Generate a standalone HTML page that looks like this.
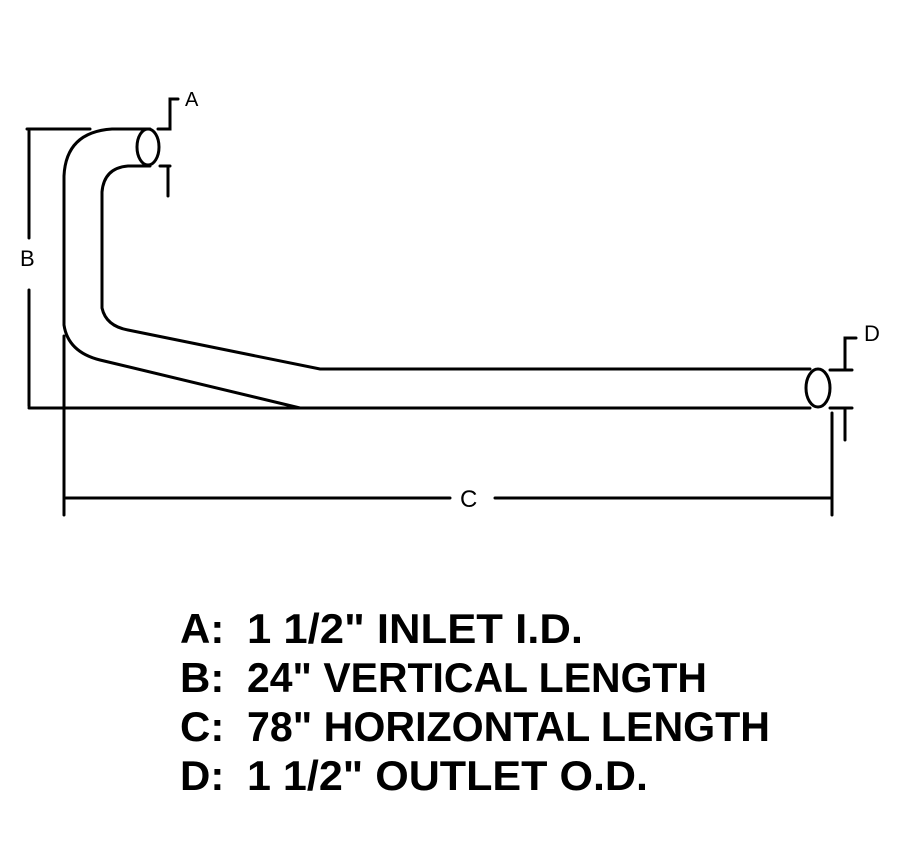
<!DOCTYPE html>
<html><head><style>html,body{margin:0;padding:0;background:#fff}</style></head>
<body>
<svg width="902" height="863" viewBox="0 0 902 863" xmlns="http://www.w3.org/2000/svg">
<g fill="none" stroke="#000" stroke-width="3" stroke-linecap="round">
<!-- B dimension -->
<line x1="27" y1="129" x2="90" y2="129"/>
<line x1="29" y1="131" x2="29" y2="238"/>
<line x1="29" y1="290" x2="29" y2="406"/>
<!-- baseline -->
<line x1="29" y1="408" x2="810" y2="408"/>
<!-- outer pipe -->
<path d="M150 129 L112 129 Q66 132 64 176 L64 325 Q68 352 100 360 L300 408"/>
<!-- inner pipe -->
<path d="M150 166 L128 166 Q104 168 102 192 L102 308 Q106 326 128 330 L320 369 L810 369"/>
<!-- inlet ellipse -->
<ellipse cx="148" cy="147" rx="11" ry="18"/>
<!-- outlet ellipse -->
<ellipse cx="818" cy="388" rx="12" ry="19"/>
<!-- A marker -->
<path d="M158 129 L170 129 L170 99 L178 99"/>
<path d="M160 166 L170 166"/>
<line x1="168" y1="166" x2="168" y2="196"/>
<!-- D marker -->
<path d="M830 370 L852 370"/>
<path d="M845 368 L845 338 L856 338"/>
<path d="M830 408 L852 408"/>
<line x1="845" y1="410" x2="845" y2="440"/>
<!-- C extension & dim -->
<line x1="64" y1="336" x2="64" y2="515"/>
<line x1="832" y1="413" x2="832" y2="515"/>
<line x1="66" y1="498" x2="450" y2="498"/>
<line x1="495" y1="498" x2="830" y2="498"/>
</g>
<g font-family="Liberation Sans, sans-serif" fill="#000">
<text x="185" y="106" font-size="20">A</text>
<text x="20" y="266" font-size="22">B</text>
<text x="460" y="507" font-size="24">C</text>
<text x="864" y="341" font-size="22">D</text>
</g>
<g font-family="Liberation Sans, sans-serif" font-weight="bold" font-size="42" fill="#000">
<text x="180" y="643">A:</text><text x="247" y="643" textLength="336" lengthAdjust="spacingAndGlyphs">1 1/2" INLET I.D.</text>
<text x="180" y="692">B:</text><text x="247" y="692" textLength="460" lengthAdjust="spacingAndGlyphs">24" VERTICAL LENGTH</text>
<text x="180" y="741">C:</text><text x="247" y="741" textLength="523" lengthAdjust="spacingAndGlyphs">78" HORIZONTAL LENGTH</text>
<text x="180" y="790">D:</text><text x="247" y="790" textLength="401" lengthAdjust="spacingAndGlyphs">1 1/2" OUTLET O.D.</text>
</g>
</svg>
</body></html>
